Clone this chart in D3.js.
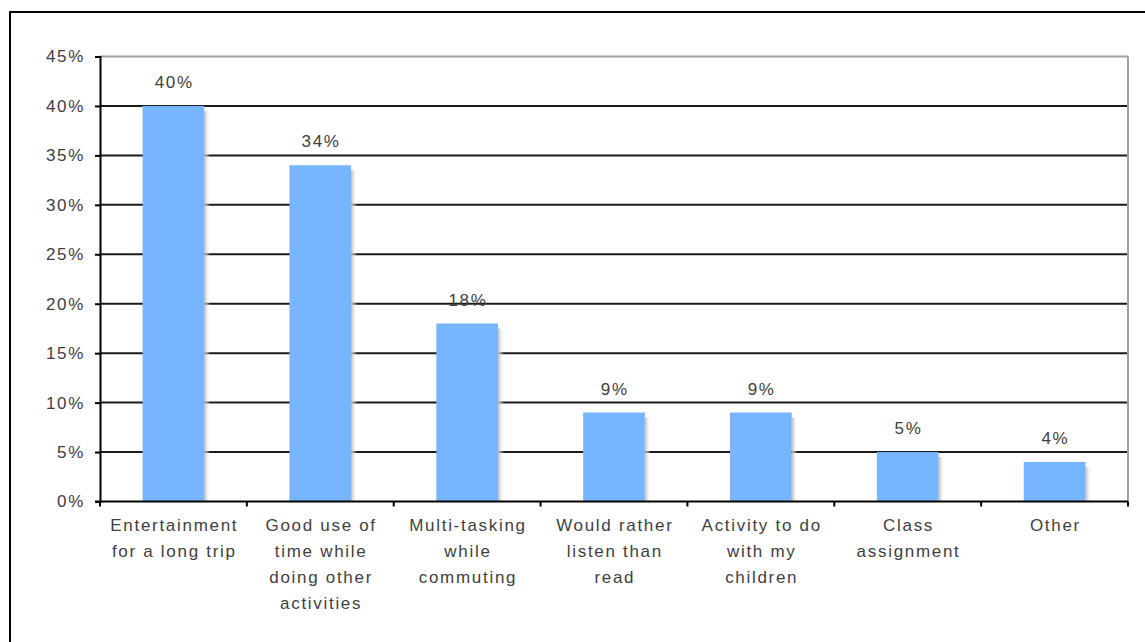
<!DOCTYPE html>
<html>
<head>
<meta charset="utf-8">
<script src="https://cdn.jsdelivr.net/npm/d3@7"></script>
<style>
  html, body { margin: 0; padding: 0; background: #fff; }
  svg { display: block; }
  text { font-family: "Liberation Sans", Arial, sans-serif; fill: #404040; }
</style>
</head>
<body>
<svg id="chart" width="1145" height="642"></svg>
<script>
const categories = [
  ["Entertainment", "for a long trip"],
  ["Good use of", "time while", "doing other", "activities"],
  ["Multi-tasking", "while", "commuting"],
  ["Would rather", "listen than", "read"],
  ["Activity to do", "with my", "children"],
  ["Class", "assignment"],
  ["Other"]
];
const values = [40, 34, 18, 9, 9, 5, 4];
const valueLabels = ["40%", "34%", "18%", "9%", "9%", "5%", "4%"];
const yTicks = [0, 5, 10, 15, 20, 25, 30, 35, 40, 45];

(function () {
const svg = d3.select("#chart");
const pLeft = 100, pRight = 1128, pTop = 56.5, pBottom = 501.5;
const LS = 1.7;

// outer frame
svg.append("rect").attr("x", 10).attr("y", 12).attr("width", 1200).attr("height", 700)
  .attr("fill", "none").attr("stroke", "#000").attr("stroke-width", 2);

const x = d3.scaleBand().domain(d3.range(categories.length)).range([pLeft, pRight])
  .paddingInner(0.58).paddingOuter(0.29);
const y = d3.scaleLinear().domain([0, 45]).range([pBottom, pTop]);

const defs = svg.append("defs");
const grad = defs.append("linearGradient").attr("id", "shadow").attr("x1", "0").attr("x2", "1").attr("y1", "0").attr("y2", "0");
grad.append("stop").attr("offset", "0").attr("stop-color", "#b8b8b8");
grad.append("stop").attr("offset", "1").attr("stop-color", "#ffffff").attr("stop-opacity", 0);

// gridlines
svg.append("g").selectAll("line").data(yTicks.filter(t => t > 0 && t < 45)).join("line")
  .attr("x1", pLeft).attr("x2", pRight).attr("y1", d => y(d)).attr("y2", d => y(d))
  .attr("stroke", "#1a1a1a").attr("stroke-width", 2);
// plot border top/right
svg.append("line").attr("x1", pLeft).attr("x2", pRight).attr("y1", y(45)).attr("y2", y(45))
  .attr("stroke", "#a0a0a0").attr("stroke-width", 2);
svg.append("line").attr("x1", pRight).attr("x2", pRight).attr("y1", y(45)).attr("y2", pBottom)
  .attr("stroke", "#a0a0a0").attr("stroke-width", 2);

// shadows
svg.append("g").selectAll("rect").data(values).join("rect")
  .attr("x", (d, i) => x(i) + x.bandwidth())
  .attr("y", d => y(d) + 5)
  .attr("width", 6)
  .attr("height", d => pBottom - y(d) - 5)
  .attr("fill", "url(#shadow)");

// bars
svg.append("g").selectAll("rect").data(values).join("rect")
  .attr("x", (d, i) => x(i))
  .attr("y", d => y(d))
  .attr("width", x.bandwidth())
  .attr("height", d => pBottom - y(d))
  .attr("fill", "#77b5fe");

// value labels
svg.append("g").selectAll("text").data(values).join("text")
  .attr("x", (d, i) => x(i) + x.bandwidth() / 2 + LS / 2)
  .attr("y", d => y(d) - 18)
  .attr("text-anchor", "middle")
  .attr("font-size", 17)
  .attr("letter-spacing", LS)
  .text((d, i) => valueLabels[i]);

// y axis
const yAxis = d3.axisLeft(y).tickValues(yTicks).tickSize(5).tickPadding(10).tickFormat(d => d + "%");
const yg = svg.append("g").attr("transform", `translate(${pLeft},0)`).call(yAxis);
yg.select(".domain").attr("stroke", "#000").attr("stroke-width", 2);
yg.selectAll(".tick line").attr("stroke", "#000").attr("stroke-width", 2);
yg.selectAll(".tick text").attr("font-size", 17).attr("letter-spacing", LS)
  .attr("font-family", "Liberation Sans, Arial, sans-serif").attr("fill", "#404040");

// x axis
const xLine = svg.append("g");
const xb = d3.scaleLinear().domain([0, categories.length]).range([pLeft, pRight]);
xLine.append("line").attr("x1", pLeft - 5).attr("x2", pRight).attr("y1", pBottom).attr("y2", pBottom)
  .attr("stroke", "#000").attr("stroke-width", 2);
xLine.selectAll("line.tk").data(d3.range(categories.length + 1)).join("line").attr("class", "tk")
  .attr("x1", d => xb(d)).attr("x2", d => xb(d)).attr("y1", pBottom).attr("y2", pBottom + 5)
  .attr("stroke", "#000").attr("stroke-width", 2);

const lab = svg.append("g").selectAll("text").data(categories).join("text")
  .attr("text-anchor", "middle")
  .attr("font-size", 17)
  .attr("letter-spacing", LS);
lab.each(function(lines, i) {
  const t = d3.select(this);
  lines.forEach((ln, j) => {
    t.append("tspan").attr("x", x(i) + x.bandwidth() / 2 + LS / 2).attr("y", 531 + j * 26).text(ln);
  });
});
})();
</script>
</body>
</html>
